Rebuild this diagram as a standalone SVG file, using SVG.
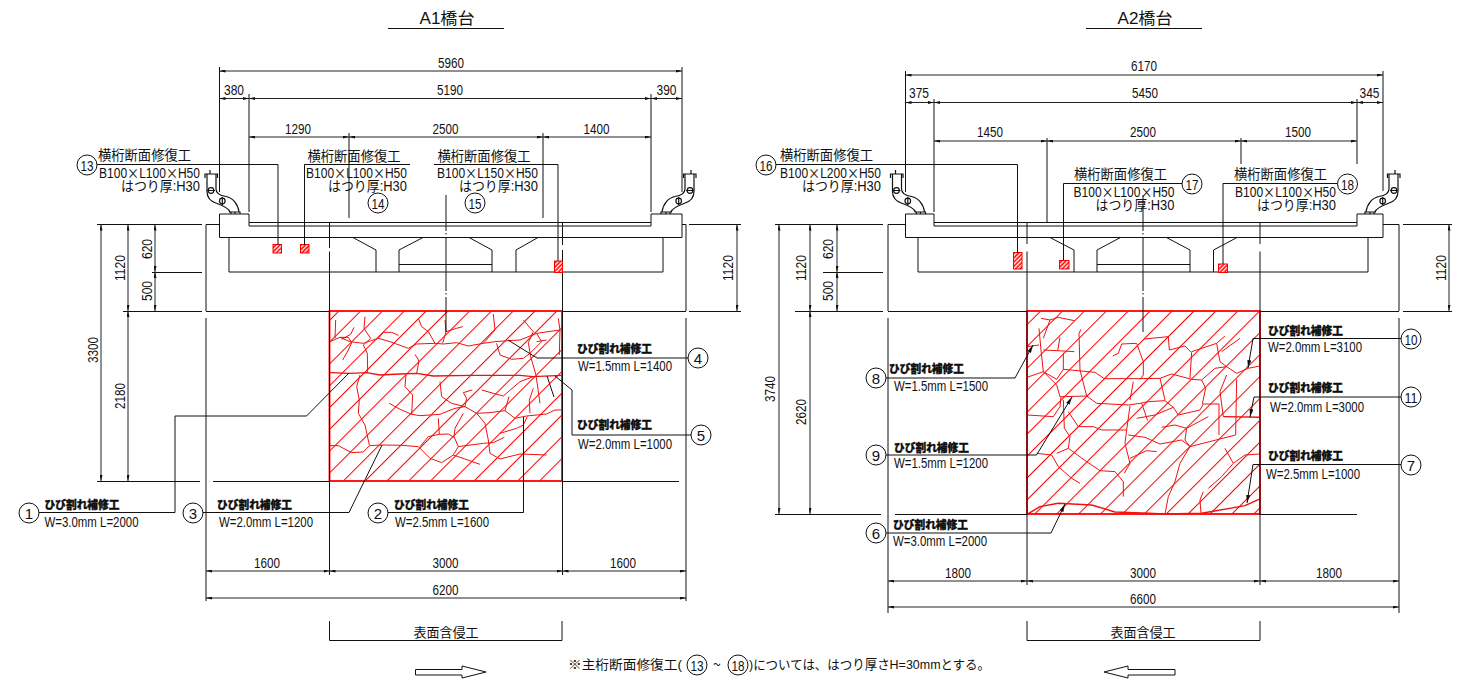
<svg xmlns="http://www.w3.org/2000/svg" xmlns:xlink="http://www.w3.org/1999/xlink" width="1464" height="679" viewBox="0 0 1464 679">
<style>
text{font-family:"Liberation Sans","Noto Sans CJK JP",sans-serif;fill:#111;font-size:14px}
.d{text-anchor:middle;font-size:15px}
.j{font-size:14px}
.x{font-family:"Noto Sans CJK JP",sans-serif}
.b{font-size:11px;font-weight:900;stroke:#000;stroke-width:.3}
.w{font-size:14px}
.n{text-anchor:middle;font-size:15px}
.l,.l path{fill:none;stroke:#111;stroke-width:1}
.dim{fill:none;stroke:#222;stroke-width:1;marker-start:url(#ah);marker-end:url(#ah)}
.c{fill:#fff;stroke:#111;stroke-width:1}
.frame{stroke:#f00;stroke-width:1.8}
.crack{fill:none;stroke:#f01010;stroke-width:3;stroke-linejoin:round}
.crack2{fill:none;stroke:#f01010;stroke-width:4.200;stroke-linejoin:round}
.sq{fill:url(#sqp);stroke:#f00;stroke-width:1}
</style>
<defs>
<marker id="ah" viewBox="0 0 6 3" refX="6" refY="1.5" markerWidth="6" markerHeight="3" markerUnits="userSpaceOnUse" orient="auto-start-reverse"><path d="M0,0L6,1.5L0,3z" fill="#111"/></marker>
<marker id="ld" viewBox="0 0 8 4" refX="8" refY="2" markerWidth="8" markerHeight="4" markerUnits="userSpaceOnUse" orient="auto"><path d="M0,0L8,2L0,4z" fill="#111"/></marker>
<pattern id="sqp" width="3" height="3" patternUnits="userSpaceOnUse" patternTransform="rotate(45)"><rect width="3" height="3" fill="#f00"/><rect width="1.4" height="3" fill="#fff"/></pattern>
<pattern id="h1" width="15.415" height="10" patternUnits="userSpaceOnUse" patternTransform="translate(360,311) rotate(45)"><rect width="15.415" height="10" fill="#fff"/><rect width="1" height="10" fill="#ff0000"/></pattern>
<pattern id="h2" width="15.486" height="10" patternUnits="userSpaceOnUse" patternTransform="translate(1040,311) rotate(45)"><rect width="15.486" height="10" fill="#fff"/><rect width="1" height="10" fill="#ff0000"/></pattern>
<g id="drain" fill="none" stroke="#111" stroke-width="1.200">
<path d="M207,174V191.5C207,199 212,202 217,203.5C224,206 229,209 230,212"/>
<path d="M216,174V189C216,194 220,195.500 226,196.500C233,198 238,204 239,212"/>
<path d="M205,178V174H217.500V178M229,212H240V214M231,212V214M235,212V214M210,170V174"/>
<circle cx="211" cy="190.500" r="2.800"/><circle cx="222.300" cy="201" r="2.800"/>
<path d="M207,190.500H215M222.300,197V205"/>
</g>
</defs>

<g id="title-a1"><text x="447" y="24" text-anchor="middle" style="font-size:16px" textLength="55" lengthAdjust="spacingAndGlyphs">A1橋台</text><path class="l" d="M388,28.500H504"/></g>
<g id="title-a2"><text x="1145" y="24" text-anchor="middle" style="font-size:16px" textLength="55" lengthAdjust="spacingAndGlyphs">A2橋台</text><path class="l" d="M1086,28.500H1202"/></g>

<g id="a1-crack-zone">
<rect class="frame" fill="url(#h1)" x="329.500" y="311" width="232.500" height="170"/>
<g transform="translate(320,300) scale(.3333)">
<path class="crack2" d="M30,218L90,220L140,218L180,225L240,222L290,220L340,228L450,226L540,226L600,226L640,230L725,226"/>
<path class="crack" d="M30,125L60,112L90,125L130,130L175,115L210,125L265,145L290,132L345,130L370,132L410,128L445,138L490,130L525,125L565,122L600,120L650,100L720,90"/>
<path class="crack" d="M60,112L85,112L95,128L85,150L68,180M47,60L45,115M102,82L92,103L65,118M135,50L132,85L152,115L130,135L142,160L143,218M120,225L110,260L118,300L115,340L135,375L148,435M30,437L55,437L95,458L130,456L148,437L185,435L245,436L295,440L330,475L365,488L400,465L480,493M295,55L305,80L325,95L345,130M285,163L297,183L290,220M258,225L255,260L278,285L275,343M208,310L240,328L275,343L300,347L360,343L405,325L435,320L470,340L495,370L505,420L510,460L540,477L600,462L680,465M175,115L190,97L215,97L236,106M375,60L378,95L368,130M378,95L410,85L428,80M520,42L525,90L490,130M360,245L365,290L395,310L435,320L440,295L430,278L457,270M485,270L520,280L550,288L600,245L640,230M530,130L540,165L575,178L610,175L630,160L665,125M610,60L640,95L625,128L632,170L648,225L660,310M640,265L628,300L630,340M470,340L510,338L555,332L585,355L620,348L680,342L705,330L725,330M567,290L555,332M430,340L405,385L402,410L415,440L400,465M415,440L490,430L520,428L553,412M355,355L358,403L325,410L300,440M358,403L385,402L402,412M540,400L590,385L610,375L622,350M715,55L720,90L718,165M650,125L680,120M650,100L665,125"/>
</g>
</g>
<g id="a2-crack-zone">
<rect class="frame" fill="url(#h2)" x="1027" y="311" width="233" height="203"/>
<g transform="translate(1015,300) scale(.3333)">
<path class="crack2" d="M36,643L75,620L130,610L230,615L300,636L400,640L450,642L560,640L690,617L735,597"/>
<path class="crack" d="M36,232L85,215L125,238L145,208L240,217L268,236L370,236L435,235L470,222L530,238L560,240L600,205L635,200L665,220L700,205L735,198"/>
<path class="crack2" d="M625,350L735,352"/>
<path class="crack" d="M78,55L105,60L130,52L178,62M105,60L85,115M72,85L78,150L85,215L125,255L135,290L150,290L215,288L245,310L340,315L375,310L400,305L450,302L475,322L490,345L555,330L565,312L612,312M36,140L72,135M135,112L128,152L85,150M128,152L178,155M145,158L145,208M198,88L192,100L195,210L215,288M293,168L310,160L320,132L365,130L385,185L385,225L375,238M388,117L460,110L463,150L510,138L530,158L525,235M530,155L605,130L630,108M605,130L615,185L635,200M620,155L675,115M435,235L450,300M560,240L572,265L562,312M635,225L615,275L625,350M665,238L662,405L525,440L510,420L515,385L480,375L440,382M515,385L580,350M36,345L115,350L135,320L138,290M145,300L148,385L165,410M160,335L190,380L235,380L260,390L335,390L345,318M165,410L160,445L215,485L255,512L300,515L325,545L325,590M335,390L330,430L345,490L328,520M345,475L395,452L425,455M340,405L390,412L435,432L500,420L525,440M365,355L420,345L475,322M380,310L398,362M355,245L345,300M65,460L110,465L130,500L170,535L195,550M160,445L125,460M525,440L495,490L480,545L460,590L450,642M565,575L555,600L558,640M630,445L655,490L690,465L735,462M655,490L620,530L580,565M612,405L612,312"/>
</g>
</g>

<g id="a1-section" class="l">
<path d="M219.500,214H249V226H651V214H682V237.500H219.500Z"/>
<path d="M249,222.500H651"/>
<path d="M229,237.500V272H663V237.500"/>
<path d="M353,237.500L376,250V272M399,272V250L423,237.500H469L492,250V272M399,264.500H492M516,272V250L538,237.500"/>
<path d="M206,224.500H219.500M682,224.500H686M206,224.500V311M686,224.500V311M97,224.500H202M689,224.500H741M152,272.500H202M123,311.500H202M206,311.500H329M562,311.500H686M689,311.500H741M206,318V601M686,318V601M97,481.500H200M213,481.500H329M562,481.500H679"/>
<path d="M329.500,222.500V248M329.500,251.500V575M562.500,222.500V245M562.500,250V575"/>
<path d="M446,195V231M446,233V234.500M446,238V291M446,293V294.500M446,297V332"/>
<path d="M219.500,67V192M249,94V212M651,94V212M682,67V192M349,133V218M543,133V218"/>
<use xlink:href="#drain" href="#drain"/><use xlink:href="#drain" href="#drain" transform="translate(901,0) scale(-1,1)"/>
</g>
<g id="a2-section" class="l">
<path d="M905.500,214H934V226H1357V214H1383V237.500H905.500Z"/>
<path d="M934,222.500H1357"/>
<path d="M918,237.500V272H1368V237.500"/>
<path d="M1050,237.500L1074,250V272M1097,272V250L1120.500,237.500H1166.500L1190,250V272M1097,264.500H1190M1213.500,272V250L1237,237.500"/>
<path d="M888,224.500H905.500M1383,224.500H1399M888,224.500V311M1399,224.500V311M775,224.500H883M1403,224.500H1452M823,272.500H883M795,311.500H883M888,311.500H1027M1260,311.500H1399M1403,311.500H1452M888,318V613M1399,318V613M775,514.500H881M895,514.500H1027M1260,514.500H1357"/>
<path d="M1027,222.500V244M1027,251.500V585M1260,222.500V244M1260,251.500V585"/>
<path d="M1143,195V231M1143,233V234.500M1143,238V291M1143,293V294.500M1143,297V332"/>
<path d="M905.500,71V192M934,99V212M1357,99V164M1383,71V191M1047,138V222M1241,138V164"/>
<use xlink:href="#drain" href="#drain" transform="translate(685.500,0)"/><use xlink:href="#drain" href="#drain" transform="translate(1605,0) scale(-1,1)"/>
</g>

<g id="repair-squares">
<rect class="sq" x="273" y="244.500" width="8.500" height="8.500"/><rect class="sq" x="300.500" y="244.500" width="8.500" height="8.500"/><rect class="sq" x="554.500" y="261" width="8" height="11.500"/>
<rect class="sq" x="1013.500" y="252.500" width="8.500" height="16.500"/><rect class="sq" x="1059.500" y="260.500" width="9.500" height="8.500"/><rect class="sq" x="1218.500" y="264" width="9" height="8.500"/>
</g>

<g id="connectors" class="l">
<path d="M39,512.500H175V416H306.500L349,373"/>
<path d="M203,512.500H349L382,445"/>
<path d="M388,512.500H523.500V417"/>
<path d="M688,358H537L508,340"/>
<path d="M691,435H572V390L555,376M547,376L554,397"/>
<path d="M97,164.500H278V245"/>
<path d="M410,164.500H304.500V245"/>
<path d="M434,164.500H558V261"/>
<path d="M776,164.500H1017.500V253"/>
<path d="M1182,183.500H1063.500V260"/>
<path d="M1337,183.500H1223V264"/>
<path d="M886,378H1015L1033,345" marker-end="url(#ld)"/>
<path d="M886,455H1036.500L1072,397" marker-end="url(#ld)"/>
<path d="M886,533H1051L1065,504" marker-end="url(#ld)"/>
<path d="M1401,338.500H1253L1248,368" marker-end="url(#ld)"/>
<path d="M1401,397H1254L1250,417" marker-end="url(#ld)"/>
<path d="M1401,464.500H1253L1247,503" marker-end="url(#ld)"/>
</g>

<g id="dims-a1">
<path class="dim" d="M219.500,71H682"/><path class="dim" d="M219.500,98.500H249"/><path class="dim" d="M249,98.500H651"/><path class="dim" d="M651,98.500H682"/>
<path class="dim" d="M249,137H349"/><path class="dim" d="M349,137H543"/><path class="dim" d="M543,137H651"/>
<path class="dim" d="M101,224.500V481"/><path class="dim" d="M128,224.500V311"/><path class="dim" d="M128,311V481"/><path class="dim" d="M155,224.500V272"/><path class="dim" d="M155,272V311"/><path class="dim" d="M737,224.500V311"/>
<path class="dim" d="M206,571H329.500"/><path class="dim" d="M329.500,571H562.500"/><path class="dim" d="M562.500,571H686"/><path class="dim" d="M206,598H686"/>
<g>
<text class="d" x="451" y="68" textLength="26" lengthAdjust="spacingAndGlyphs">5960</text><text class="d" x="450" y="95" textLength="26" lengthAdjust="spacingAndGlyphs">5190</text><text class="d" x="234" y="95" textLength="20" lengthAdjust="spacingAndGlyphs">380</text><text class="d" x="666.500" y="95" textLength="20" lengthAdjust="spacingAndGlyphs">390</text>
<text class="d" x="298" y="134" textLength="26" lengthAdjust="spacingAndGlyphs">1290</text><text class="d" x="445.500" y="134" textLength="26" lengthAdjust="spacingAndGlyphs">2500</text><text class="d" x="596.500" y="134" textLength="26" lengthAdjust="spacingAndGlyphs">1400</text>
<text class="d" transform="translate(98,350) rotate(-90)" textLength="26" lengthAdjust="spacingAndGlyphs">3300</text><text class="d" transform="translate(124.500,268) rotate(-90)" textLength="26" lengthAdjust="spacingAndGlyphs">1120</text><text class="d" transform="translate(124.500,396) rotate(-90)" textLength="26" lengthAdjust="spacingAndGlyphs">2180</text><text class="d" transform="translate(151.500,249) rotate(-90)" textLength="20" lengthAdjust="spacingAndGlyphs">620</text><text class="d" transform="translate(151.500,291) rotate(-90)" textLength="20" lengthAdjust="spacingAndGlyphs">500</text><text class="d" transform="translate(733,268) rotate(-90)" textLength="26" lengthAdjust="spacingAndGlyphs">1120</text>
<text class="d" x="267" y="568" textLength="26" lengthAdjust="spacingAndGlyphs">1600</text><text class="d" x="445.500" y="568" textLength="26" lengthAdjust="spacingAndGlyphs">3000</text><text class="d" x="623" y="568" textLength="26" lengthAdjust="spacingAndGlyphs">1600</text><text class="d" x="445.500" y="595" textLength="26" lengthAdjust="spacingAndGlyphs">6200</text>
</g>
</g>
<g id="dims-a2">
<path class="dim" d="M905.500,75H1383"/><path class="dim" d="M905.500,102.500H934"/><path class="dim" d="M934,102.500H1357"/><path class="dim" d="M1357,102.500H1383"/>
<path class="dim" d="M934,141H1047"/><path class="dim" d="M1047,141H1241"/><path class="dim" d="M1241,141H1357"/>
<path class="dim" d="M779,224.500V514"/><path class="dim" d="M810,224.500V311"/><path class="dim" d="M810,311V514"/><path class="dim" d="M837,224.500V272"/><path class="dim" d="M837,272V311"/><path class="dim" d="M1449,224.500V311"/>
<path class="dim" d="M888,581H1027"/><path class="dim" d="M1027,581H1260"/><path class="dim" d="M1260,581H1399"/><path class="dim" d="M888,607H1399"/>
<g>
<text class="d" x="1144" y="71" textLength="26" lengthAdjust="spacingAndGlyphs">6170</text><text class="d" x="1145" y="98" textLength="26" lengthAdjust="spacingAndGlyphs">5450</text><text class="d" x="919" y="98" textLength="20" lengthAdjust="spacingAndGlyphs">375</text><text class="d" x="1369.500" y="98" textLength="20" lengthAdjust="spacingAndGlyphs">345</text>
<text class="d" x="990" y="137" textLength="26" lengthAdjust="spacingAndGlyphs">1450</text><text class="d" x="1143" y="137" textLength="26" lengthAdjust="spacingAndGlyphs">2500</text><text class="d" x="1298" y="137" textLength="26" lengthAdjust="spacingAndGlyphs">1500</text>
<text class="d" transform="translate(775,389) rotate(-90)" textLength="26" lengthAdjust="spacingAndGlyphs">3740</text><text class="d" transform="translate(806,268) rotate(-90)" textLength="26" lengthAdjust="spacingAndGlyphs">1120</text><text class="d" transform="translate(806,412) rotate(-90)" textLength="26" lengthAdjust="spacingAndGlyphs">2620</text><text class="d" transform="translate(833,249) rotate(-90)" textLength="20" lengthAdjust="spacingAndGlyphs">620</text><text class="d" transform="translate(833,291) rotate(-90)" textLength="20" lengthAdjust="spacingAndGlyphs">500</text><text class="d" transform="translate(1446,268) rotate(-90)" textLength="26" lengthAdjust="spacingAndGlyphs">1120</text>
<text class="d" x="958" y="578" textLength="26" lengthAdjust="spacingAndGlyphs">1800</text><text class="d" x="1143" y="578" textLength="26" lengthAdjust="spacingAndGlyphs">3000</text><text class="d" x="1329" y="578" textLength="26" lengthAdjust="spacingAndGlyphs">1800</text><text class="d" x="1143" y="604" textLength="26" lengthAdjust="spacingAndGlyphs">6600</text>
</g>
</g>

<g id="n1"><circle class="c" cx="29" cy="513" r="10"/><text class="n" x="29" y="518.500">1</text><text class="b" x="44.500" y="509" textLength="75" lengthAdjust="spacingAndGlyphs">ひび割れ補修工</text><text class="w" x="44.500" y="527" textLength="94" lengthAdjust="spacingAndGlyphs">W=3.0mm L=2000</text></g>
<g id="n3"><circle class="c" cx="193" cy="513" r="10"/><text class="n" x="193" y="518.500">3</text><text class="b" x="217" y="509" textLength="75" lengthAdjust="spacingAndGlyphs">ひび割れ補修工</text><text class="w" x="219" y="527" textLength="94" lengthAdjust="spacingAndGlyphs">W=2.0mm L=1200</text></g>
<g id="n2"><circle class="c" cx="378" cy="513" r="10"/><text class="n" x="378" y="518.500">2</text><text class="b" x="394" y="509" textLength="75" lengthAdjust="spacingAndGlyphs">ひび割れ補修工</text><text class="w" x="395" y="527" textLength="94" lengthAdjust="spacingAndGlyphs">W=2.5mm L=1600</text></g>
<g id="n4"><circle class="c" cx="698" cy="358" r="10"/><text class="n" x="698" y="363.500">4</text><text class="b" x="577" y="353" textLength="75" lengthAdjust="spacingAndGlyphs">ひび割れ補修工</text><text class="w" x="578" y="371" textLength="94" lengthAdjust="spacingAndGlyphs">W=1.5mm L=1400</text></g>
<g id="n5"><circle class="c" cx="701" cy="435" r="10"/><text class="n" x="701" y="440.500">5</text><text class="b" x="577" y="429" textLength="75" lengthAdjust="spacingAndGlyphs">ひび割れ補修工</text><text class="w" x="578" y="449" textLength="94" lengthAdjust="spacingAndGlyphs">W=2.0mm L=1000</text></g>
<g id="n13"><circle class="c" cx="87" cy="165" r="10"/><text class="n" x="87" y="170.500" textLength="13" lengthAdjust="spacingAndGlyphs">13</text><text class="j" x="98" y="159.500" textLength="93" lengthAdjust="spacingAndGlyphs">横桁断面修復工</text><text class="j" x="99" y="178" textLength="101" lengthAdjust="spacingAndGlyphs">B100<tspan class="x">×</tspan>L100<tspan class="x">×</tspan>H50</text><text class="j" x="121" y="191" textLength="79" lengthAdjust="spacingAndGlyphs">はつり厚:H30</text></g>
<g id="n14"><circle class="c" cx="378" cy="203" r="10"/><text class="n" x="378" y="208.500" textLength="13" lengthAdjust="spacingAndGlyphs">14</text><text class="j" x="307.500" y="161" textLength="93" lengthAdjust="spacingAndGlyphs">横桁断面修復工</text><text class="j" x="306" y="178" textLength="101" lengthAdjust="spacingAndGlyphs">B100<tspan class="x">×</tspan>L100<tspan class="x">×</tspan>H50</text><text class="j" x="328" y="191" textLength="79" lengthAdjust="spacingAndGlyphs">はつり厚:H30</text></g>
<g id="n15"><circle class="c" cx="475" cy="203" r="10"/><text class="n" x="475" y="208.500" textLength="13" lengthAdjust="spacingAndGlyphs">15</text><text class="j" x="437.500" y="161" textLength="93" lengthAdjust="spacingAndGlyphs">横桁断面修復工</text><text class="j" x="437" y="178" textLength="101" lengthAdjust="spacingAndGlyphs">B100<tspan class="x">×</tspan>L150<tspan class="x">×</tspan>H50</text><text class="j" x="459" y="191" textLength="79" lengthAdjust="spacingAndGlyphs">はつり厚:H30</text></g>
<g id="n8"><circle class="c" cx="876" cy="378" r="10"/><text class="n" x="876" y="383.500">8</text><text class="b" x="889" y="373" textLength="75" lengthAdjust="spacingAndGlyphs">ひび割れ補修工</text><text class="w" x="894" y="391" textLength="94" lengthAdjust="spacingAndGlyphs">W=1.5mm L=1500</text></g>
<g id="n9"><circle class="c" cx="876" cy="455" r="10"/><text class="n" x="876" y="460.500">9</text><text class="b" x="894" y="452" textLength="75" lengthAdjust="spacingAndGlyphs">ひび割れ補修工</text><text class="w" x="894" y="468" textLength="94" lengthAdjust="spacingAndGlyphs">W=1.5mm L=1200</text></g>
<g id="n6"><circle class="c" cx="876" cy="533" r="10"/><text class="n" x="876" y="538.500">6</text><text class="b" x="893" y="529" textLength="75" lengthAdjust="spacingAndGlyphs">ひび割れ補修工</text><text class="w" x="893" y="546" textLength="94" lengthAdjust="spacingAndGlyphs">W=3.0mm L=2000</text></g>
<g id="n10"><circle class="c" cx="1411" cy="339" r="10"/><text class="n" x="1411" y="344.500" textLength="13" lengthAdjust="spacingAndGlyphs">10</text><text class="b" x="1268" y="335" textLength="75" lengthAdjust="spacingAndGlyphs">ひび割れ補修工</text><text class="w" x="1268" y="352" textLength="94" lengthAdjust="spacingAndGlyphs">W=2.0mm L=3100</text></g>
<g id="n11"><circle class="c" cx="1411" cy="397" r="10"/><text class="n" x="1411" y="402.500" textLength="13" lengthAdjust="spacingAndGlyphs">11</text><text class="b" x="1268" y="392" textLength="75" lengthAdjust="spacingAndGlyphs">ひび割れ補修工</text><text class="w" x="1270" y="412" textLength="94" lengthAdjust="spacingAndGlyphs">W=2.0mm L=3000</text></g>
<g id="n7"><circle class="c" cx="1411" cy="465" r="10"/><text class="n" x="1411" y="470.500">7</text><text class="b" x="1268" y="460" textLength="75" lengthAdjust="spacingAndGlyphs">ひび割れ補修工</text><text class="w" x="1266" y="479" textLength="94" lengthAdjust="spacingAndGlyphs">W=2.5mm L=1000</text></g>
<g id="n16"><circle class="c" cx="766" cy="165" r="10"/><text class="n" x="766" y="170.500" textLength="13" lengthAdjust="spacingAndGlyphs">16</text><text class="j" x="780" y="160" textLength="93" lengthAdjust="spacingAndGlyphs">横桁断面修復工</text><text class="j" x="780" y="178" textLength="101" lengthAdjust="spacingAndGlyphs">B100<tspan class="x">×</tspan>L200<tspan class="x">×</tspan>H50</text><text class="j" x="802" y="191" textLength="79" lengthAdjust="spacingAndGlyphs">はつり厚:H30</text></g>
<g id="n17"><circle class="c" cx="1192" cy="184" r="10"/><text class="n" x="1192" y="189.500" textLength="13" lengthAdjust="spacingAndGlyphs">17</text><text class="j" x="1074" y="179" textLength="93" lengthAdjust="spacingAndGlyphs">横桁断面修復工</text><text class="j" x="1073.500" y="197" textLength="101" lengthAdjust="spacingAndGlyphs">B100<tspan class="x">×</tspan>L100<tspan class="x">×</tspan>H50</text><text class="j" x="1095.500" y="210" textLength="79" lengthAdjust="spacingAndGlyphs">はつり厚:H30</text></g>
<g id="n18"><circle class="c" cx="1347.500" cy="184" r="10"/><text class="n" x="1347.500" y="189.500" textLength="13" lengthAdjust="spacingAndGlyphs">18</text><text class="j" x="1234" y="179" textLength="93" lengthAdjust="spacingAndGlyphs">横桁断面修復工</text><text class="j" x="1235" y="197" textLength="101" lengthAdjust="spacingAndGlyphs">B100<tspan class="x">×</tspan>L100<tspan class="x">×</tspan>H50</text><text class="j" x="1257" y="210" textLength="79" lengthAdjust="spacingAndGlyphs">はつり厚:H30</text></g>

<g id="surface-a1"><path class="l" d="M329.500,621V640.500H562V621"/><text x="446" y="637" text-anchor="middle" style="font-size:13px" textLength="65" lengthAdjust="spacingAndGlyphs">表面含侵工</text></g>
<g id="surface-a2"><path class="l" d="M1027,621V640.500H1260V621"/><text x="1143" y="637" text-anchor="middle" style="font-size:13px" textLength="65" lengthAdjust="spacingAndGlyphs">表面含侵工</text></g>
<g id="dir-a1"><path class="l" d="M415.500,669.500H462V666L486,672L462,678V675H415.500Z"/></g>
<g id="dir-a2"><path class="l" d="M1175,669.500H1128V666L1104,672L1128,678V675H1175Z"/></g>
<g id="note">
<text x="568" y="669" style="font-size:13px" textLength="114" lengthAdjust="spacingAndGlyphs">※主桁断面修復工(</text>
<circle class="c" cx="697" cy="665" r="10"/><text class="n" x="697" y="670.500" textLength="13" lengthAdjust="spacingAndGlyphs">13</text>
<text class="x" x="717" y="669.500" text-anchor="middle" style="font-size:14px;font-family:'Noto Sans CJK JP',sans-serif">~</text>
<circle class="c" cx="738" cy="665" r="10"/><text class="n" x="738" y="670.500" textLength="13" lengthAdjust="spacingAndGlyphs">18</text>
<text x="749" y="669" style="font-size:13px" textLength="241" lengthAdjust="spacingAndGlyphs">)については、はつり厚さH=30mmとする。</text>
</g>
</svg>
